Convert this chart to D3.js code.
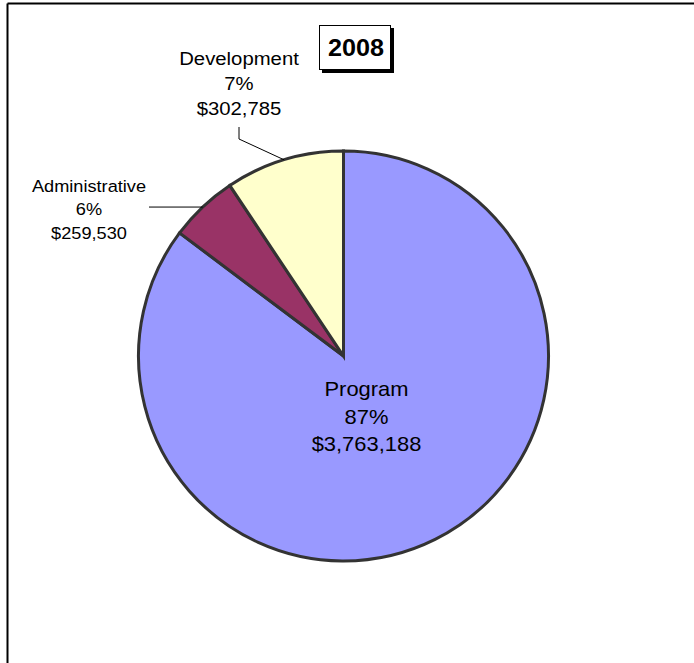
<!DOCTYPE html>
<html><head><meta charset="utf-8">
<script src="https://cdn.jsdelivr.net/npm/d3@7"></script>
<style>body{margin:0;background:#fff}svg{display:block}text{font-family:"Liberation Sans",Arial,sans-serif;fill:#000}</style>
</head><body>
<script>
const categories = ["Program", "Administrative", "Development"];
const amounts = [3763188, 259530, 302785];
const percentLabels = ["87%", "6%", "7%"];
// slice shares as drawn in the picture (degrees of the circle)
const sliceShares = [306.9, 19.4, 33.7];
const colors = ["#9999FF", "#993366", "#FFFFCC"];
const title = "2008";

const W = 694, H = 663;
const svg = d3.select("body").append("svg").attr("width", W).attr("height", H);

// frame
svg.append("line").attr("x1", 7.5).attr("x2", W).attr("y1", 3.5).attr("y2", 3.5).attr("stroke", "#000").attr("stroke-width", 2);
svg.append("line").attr("x1", 7.5).attr("x2", 7.5).attr("y1", 3.5).attr("y2", H).attr("stroke", "#000").attr("stroke-width", 2);

const cx = 343.5, cy = 356, R = 205;
const pie = d3.pie().sort(null).value(d => d);
const arcs = pie(sliceShares);
const arc = d3.arc().innerRadius(0).outerRadius(R);
const g = svg.append("g").attr("transform", `translate(${cx},${cy})`);
g.selectAll("path").data(arcs).join("path")
  .attr("d", arc).attr("fill", (d, i) => colors[i])
  .attr("stroke", "#333").attr("stroke-width", 3).attr("stroke-linejoin", "miter");

const fmt = d3.format("$,");

// label positions
const labelPos = [
  {x: 366.5, y: 389, size: 20.5, gap: 27.5},
  {x: 89, y: 186, size: 17, gap: 23.5},
  {x: 239, y: 58, size: 19, gap: 25}
];
categories.forEach((c, i) => {
  const p = labelPos[i];
  const t = svg.append("text").attr("text-anchor", "middle").attr("font-size", p.size)
    .attr("transform", `translate(${p.x},${p.y}) scale(1.07,1)`);
  [c, percentLabels[i], fmt(amounts[i])].forEach((s, k) => {
    t.append("tspan").attr("x", 0).attr("y", k * p.gap).attr("dy", "0.35em").text(s);
  });
});

// leader lines (ending on arc edges)
function edgePoint(i, frac) {
  const a = arcs[i].startAngle + (arcs[i].endAngle - arcs[i].startAngle) * frac;
  return [cx + R * Math.sin(a), cy - R * Math.cos(a)];
}
const devEnd = edgePoint(2, 0.5);
svg.append("polyline").attr("points", `239,127 239,139 ${devEnd[0]},${devEnd[1]}`)
  .attr("fill", "none").attr("stroke", "#000").attr("stroke-width", 1);
const admEnd = edgePoint(1, 0.5);
svg.append("line").attr("x1", 149).attr("y1", admEnd[1]).attr("x2", admEnd[0]).attr("y2", admEnd[1])
  .attr("stroke", "#000").attr("stroke-width", 1);

// title box
svg.append("rect").attr("x", 322).attr("y", 28).attr("width", 72).attr("height", 45).attr("fill", "#000");
svg.append("rect").attr("x", 319.5).attr("y", 25.5).attr("width", 71).attr("height", 44).attr("fill", "#fff").attr("stroke", "#000").attr("stroke-width", 1);
svg.append("text").attr("transform", "translate(356,48) scale(1.05,1)").attr("dy", "0.35em").attr("text-anchor", "middle")
  .attr("font-size", 24).attr("font-weight", "bold").text(title);
</script>
</body></html>
